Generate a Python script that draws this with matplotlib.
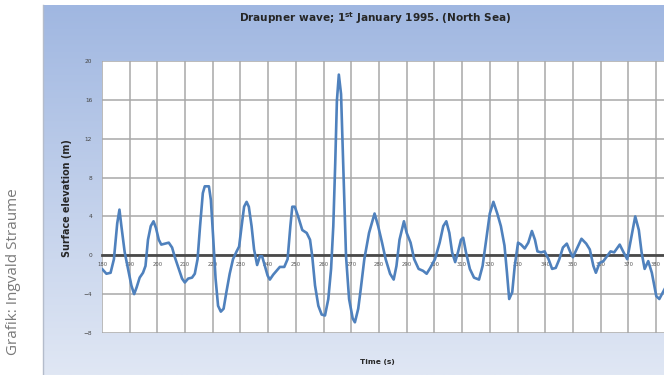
"""
Draupner wave time series (1 Jan 1995, North Sea) - Excel-style chart
"""
import numpy as np
import matplotlib
matplotlib.use("Agg")
import matplotlib.pyplot as plt

# --------------------------------------------------
# data
# --------------------------------------------------
time_s = [
    180.0, 181.6, 183.1, 184.3, 185.5, 186.3, 187.0, 188.2, 189.4, 190.6,
    191.6, 192.5, 193.6, 194.8, 195.7, 196.6, 197.6, 198.6, 199.5, 200.5,
    201.4, 202.7, 204.1, 205.3, 206.3, 207.7, 208.9, 209.9, 211.1, 212.5,
    213.5, 214.5, 215.4, 216.4, 217.1, 218.6, 219.3, 220.1, 221.0, 221.9,
    222.9, 223.9, 224.9, 226.1, 227.3, 228.6, 229.5, 230.4, 231.3, 232.2,
    233.0, 234.0, 234.9, 236.0, 237.0, 237.8, 238.8, 239.8, 240.6, 241.8,
    243.0, 244.2, 245.8, 247.0, 248.0, 248.7, 249.6, 250.8, 252.3, 253.9,
    255.1, 255.9, 256.9, 258.1, 259.3, 260.5, 261.7, 262.7, 263.5, 264.2,
    264.8, 265.5,
    266.3, 267.2, 268.1, 269.2, 270.5, 271.3, 272.5, 273.4, 274.7, 276.4,
    278.4, 279.7, 281.1, 282.4, 284.0, 285.3, 286.3, 287.4, 289.0, 290.0,
    291.4, 292.7, 294.3, 295.9, 297.2, 298.5, 300.2, 301.9, 303.2, 304.3,
    305.4, 306.4, 307.5, 308.5, 309.6, 310.4, 311.4, 312.8, 314.3, 316.1,
    317.4, 318.7, 320.0, 321.3, 322.7, 324.0, 325.3, 326.2, 327.0, 328.1,
    329.0, 330.2, 331.3, 332.6, 333.9, 335.2, 336.3, 337.2, 338.5, 339.8,
    341.2, 342.5, 343.8, 345.1, 346.4, 347.8, 349.1, 350.0, 351.3, 353.1,
    354.8, 356.1, 357.4, 358.3, 359.6, 361.0, 362.3, 363.6, 364.9, 366.9,
    368.3, 369.6, 370.9, 372.5, 373.8, 374.8, 375.9, 377.2, 378.5, 380.1,
    381.2, 382.5, 384.0,
]
elevation_m = [
    -1.4, -1.9, -1.8, -0.4, 3.3, 4.7, 3.0, 0.3, -1.4, -3.1,
    -4.0, -3.3, -2.3, -1.8, -1.1, 1.6, 3.0, 3.5, 2.8, 1.6,
    1.1, 1.2, 1.3, 0.8, -0.2, -1.4, -2.4, -2.8, -2.4, -2.3,
    -1.9, -0.4, 3.0, 6.4, 7.1, 7.1, 5.7, 2.0, -2.4, -5.2,
    -5.8, -5.5, -3.8, -1.9, -0.4, 0.4, 0.9, 3.0, 5.0, 5.5,
    5.0, 3.0, 0.6, -1.0, -0.1, -0.1, -1.1, -2.1, -2.5, -2.0,
    -1.6, -1.2, -1.2, -0.4, 3.0, 5.0, 5.0, 4.0, 2.6, 2.3,
    1.6, -0.1, -3.1, -5.2, -6.1, -6.2, -4.5, -1.4, 3.0, 9.5,
    15.9, 18.6,
    16.6, 8.4, -0.1, -4.5, -6.5, -6.9, -5.5, -3.5, -0.4, 2.3,
    4.3, 3.0, 1.3, -0.4, -1.9, -2.5, -1.1, 1.6, 3.5, 2.3,
    1.3, -0.4, -1.4, -1.6, -1.9, -1.3, -0.4, 1.3, 3.0, 3.5,
    2.3, 0.3, -0.7, 0.3, 1.6, 1.8, 0.3, -1.4, -2.3, -2.5,
    -1.1, 1.6, 4.3, 5.5, 4.3, 3.0, 1.0, -1.8, -4.5, -3.8,
    -1.1, 1.3, 1.1, 0.7, 1.3, 2.5, 1.6, 0.4, 0.3, 0.4,
    -0.4, -1.4, -1.3, -0.4, 0.8, 1.2, 0.3, -0.2, 0.6, 1.7,
    1.2, 0.6, -1.1, -1.8, -0.8, -0.6, -0.1, 0.4, 0.3, 1.1,
    0.3, -0.4, 1.6, 4.0, 2.6, 0.3, -1.4, -0.6, -1.8, -4.2,
    -4.5, -3.8, -3.0,
]
x_ticks = list(range(180, 390, 10))
y_ticks = [-8, -4, 0, 4, 8, 12, 16, 20]

title = "Draupner wave; 1$^{\\mathbf{st}}$ January 1995. (North Sea)"
credit = "Grafik: Ingvald Straume"

W, H = 664, 375
fig = plt.figure(figsize=(W / 100, H / 100), dpi=100, facecolor="white")

# --------------------------------------------------
# blue gradient panel behind the chart (figure pixel coords)
# --------------------------------------------------
bg = fig.add_axes([0, 0, 1, 1])
bg.set_xlim(0, W)
bg.set_ylim(H, 0)
bg.axis("off")
top = np.array([160, 183, 225]) / 255
bot = np.array([224, 231, 244]) / 255
k = np.linspace(0, 1, 256)[:, None]
grad = (top[None, :] * (1 - k) + bot[None, :] * k)[:, None, :]
bg.imshow(grad, extent=(43, W, H, 5), aspect="auto", interpolation="bilinear")
bg.plot([43, 43], [5, H], color="#b4bccb", lw=1)

bg.text(14, 272, credit, rotation=90, ha="center", va="center",
        fontsize=11, color="#7a7a7a", family="Open Sans")
bg.text(375, 18, title, ha="center", va="center", fontsize=7.6,
        fontweight="bold", color="#262626", family="DejaVu Sans")
bg.text(67, 198, "Surface elevation (m)", rotation=90, ha="center", va="center",
        fontsize=6.9, fontweight="bold", color="#262626")
bg.text(377, 362, "Time (s)", ha="center", va="center", fontsize=5.4,
        fontweight="bold", color="#262626")

# --------------------------------------------------
# plot area
# --------------------------------------------------
left, right, ytop, ybot = 102, W, 61, 333
ax = fig.add_axes([left / W, (H - ybot) / H, (right - left) / W, (ybot - ytop) / H])
ax.set_facecolor("white")
ax.set_xlim(180, 180 + (right - left) / 2.77)
ax.set_ylim(-8, 20)

ax.set_xticks(x_ticks)
ax.set_yticks(y_ticks)
ax.grid(True, color="#a8a8a8", lw=1.1)
ax.set_axisbelow(True)

for s in ["top", "right", "left"]:
    ax.spines[s].set_visible(False)
ax.spines["bottom"].set_position(("data", 0))
ax.spines["bottom"].set_color("#4a4a4a")
ax.spines["bottom"].set_linewidth(2.0)
ax.spines["bottom"].set_zorder(1.5)

ax.tick_params(axis="x", length=0, pad=5, labelsize=3.8, labelcolor="#555555")
ax.tick_params(axis="y", length=0, pad=7, labelsize=4.2, labelcolor="#444444")

ax.plot(time_s, elevation_m, color="#4f81bd", lw=1.9, solid_joinstyle="round",
        solid_capstyle="round", zorder=3)

fig.savefig("out.png", dpi=100, facecolor="white")
